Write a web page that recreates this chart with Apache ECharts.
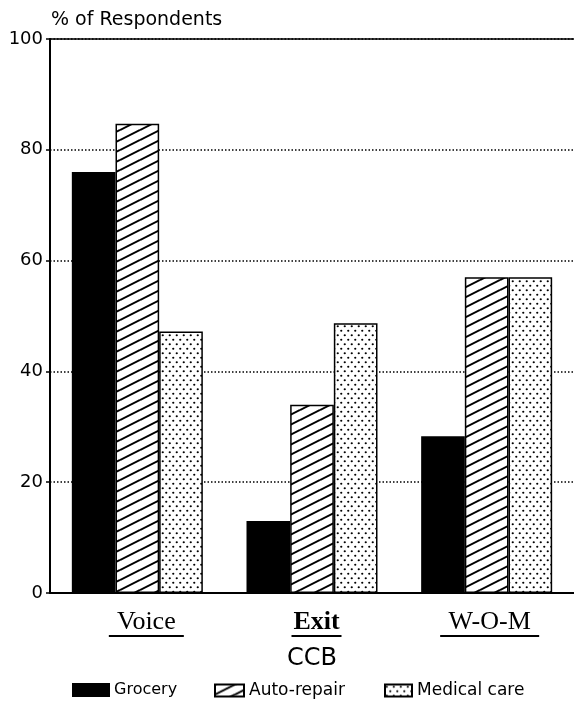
<!DOCTYPE html>
<html>
<head>
<meta charset="utf-8">
<script src="https://cdn.jsdelivr.net/npm/echarts@6/dist/echarts.min.js"></script>
<style>
html,body{margin:0;padding:0;background:#fff;}
#chart{width:574px;height:706px;}
</style>
</head>
<body>
<div id="chart"></div>
<script>
// ---- data ----
var categories = ['Voice', 'Exit', 'W-O-M'];
var seriesNames = ['Grocery', 'Auto-repair', 'Medical care'];
var grocery = [76, 13, 28.3];
var autoRepair = [84.7, 34, 57];
var medicalCare = [47.2, 48.7, 57];
var yTicks = [0, 20, 40, 60, 80, 100];

// ---- patterns ----
function hatchPattern() {
  var c = document.createElement('canvas');
  c.width = 20; c.height = 10;
  var g = c.getContext('2d');
  g.fillStyle = '#fff'; g.fillRect(0, 0, 20, 10);
  g.strokeStyle = '#000'; g.lineWidth = 2;
  [[0, 10, 20, 0], [0, 20, 20, 10], [0, 0, 20, -10]].forEach(function (l) {
    g.beginPath(); g.moveTo(l[0], l[1]); g.lineTo(l[2], l[3]); g.stroke();
  });
  return c;
}
function dotPattern() {
  var c = document.createElement('canvas');
  c.width = 7; c.height = 9;
  var g = c.getContext('2d');
  g.fillStyle = '#fff'; g.fillRect(0, 0, 7, 9);
  g.fillStyle = '#000';
  [[1.75, 2.25], [5.25, 6.75]].forEach(function (p) {
    g.beginPath(); g.arc(p[0], p[1], 1.1, 0, Math.PI * 2); g.fill();
  });
  return c;
}

var chart = echarts.init(document.getElementById('chart'), null, {renderer: 'canvas'});
var fills = [
  '#000',
  {image: hatchPattern(), repeat: 'repeat'},
  {image: dotPattern(), repeat: 'repeat'}
];
var values = [grocery, autoRepair, medicalCare];

var legendBase = {
  orient: 'horizontal', top: 682, padding: 0, itemHeight: 12,
  icon: 'rect', selectedMode: false
};
var legendLefts = [72, 214, 384];
var legendWidths = [36, 29, 27];
var legendFont = [16, 17, 17];

var labelFont = {fontFamily: 'Liberation Serif', fontSize: 26, color: '#000', lineHeight: 26};

var option = {
  backgroundColor: '#fff',
  animation: false,
  title: {
    text: '% of Respondents', left: 51, top: 11, padding: 0,
    textStyle: {fontFamily: 'DejaVu Sans', fontSize: 19, fontWeight: 'normal', color: '#000'}
  },
  legend: seriesNames.map(function (n, i) {
    return Object.assign({}, legendBase, {
      data: [n], left: legendLefts[i], itemWidth: legendWidths[i],
      textStyle: {fontFamily: 'DejaVu Sans', fontSize: legendFont[i], color: '#000'}
    });
  }),
  grid: {left: 50, width: 527, top: 39, bottom: 113},
  xAxis: [{
    type: 'category',
    data: categories,
    name: 'CCB',
    nameLocation: 'middle',
    nameGap: 45,
    nameTextStyle: {fontFamily: 'DejaVu Sans', fontSize: 24, color: '#000'},
    axisLine: {lineStyle: {color: '#000', width: 2}},
    axisTick: {show: false},
    axisLabel: {
      margin: 16,
      formatter: function (v, i) {
        return '{s' + i + '|}{t' + i + '|' + v + '}\n{s' + i + '|}{u' + i + '|}';
      },
      rich: {
        t0: labelFont,
        t1: Object.assign({}, labelFont, {fontWeight: 'bold'}),
        t2: labelFont,
        s0: {width: 18, height: 2},
        s1: {width: 9, height: 2},
        s2: {width: 6, height: 2},
        u0: {width: 75, height: 2, backgroundColor: '#000'},
        u1: {width: 50, height: 2, backgroundColor: '#000'},
        u2: {width: 99, height: 2, backgroundColor: '#000'}
      }
    }
  }, {
    type: 'category',
    data: categories,
    position: 'top',
    axisLine: {show: true, lineStyle: {color: '#000', width: 1.5}},
    axisTick: {show: false},
    axisLabel: {show: false},
    splitLine: {show: false}
  }],
  yAxis: {
    type: 'value',
    min: yTicks[0], max: yTicks[yTicks.length - 1], interval: yTicks[1] - yTicks[0],
    axisLine: {show: true, lineStyle: {color: '#000', width: 2}},
    axisTick: {show: true, length: 4, lineStyle: {color: '#000', width: 1.5}},
    axisLabel: {margin: 7, fontFamily: 'DejaVu Sans', fontSize: 18, color: '#000'},
    splitLine: {show: true, lineStyle: {color: '#000', width: 1.5, type: [1.5, 2]}}
  },
  series: seriesNames.map(function (n, i) {
    return {
      name: n, type: 'bar', data: values[i], xAxisIndex: 0,
      barGap: '0%', barCategoryGap: '25%',
      itemStyle: {color: fills[i], borderColor: '#000', borderWidth: 1.5}
    };
  })
};
chart.setOption(option);
</script>
</body>
</html>
